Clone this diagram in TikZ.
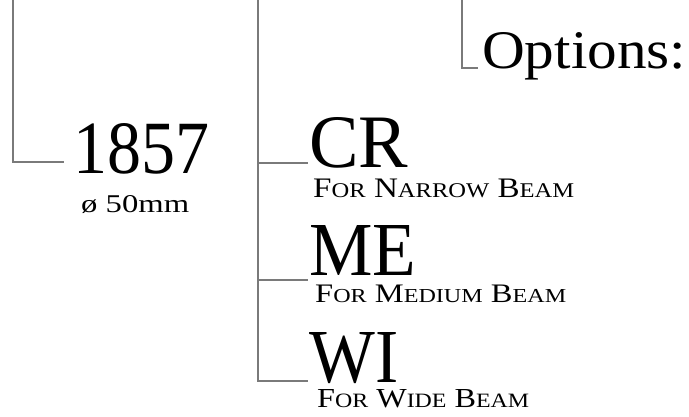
\documentclass[tikz,border=0pt]{standalone}
\usepackage{graphicx}
\usepackage{fontspec}
\setmainfont{Liberation Serif}
\definecolor{linegray}{HTML}{7A7A7A}
\newcommand{\fitbox}[3]{\resizebox{#1pt}{#2pt}{#3}}
\newcommand{\capsmall}[2]{#1{\fontsize{21.5}{21.5}\selectfont #2}}
\begin{document}
\begin{tikzpicture}[x=1pt,y=-1pt,
  tree/.style={draw=linegray,line width=1.8pt},
  txt/.style={inner sep=0pt,anchor=base west,text=black,font=\fontsize{29}{29}\selectfont}]
\useasboundingbox (0,0) rectangle (689,416);
% texts
\node[txt] (num) at (73,173) {\fitbox{136}{50}{1857}};
\node[txt] (dia) at (81,212) {\fitbox{108}{17}{ø 50mm}};
\node[txt] (opt) at (482,68) {\fitbox{204}{36}{Options:}};
\node[txt] (cr) at (309,167) {\fitbox{99}{50}{CR}};
\node[txt] (crn) at (313,197) {\fitbox{261}{18.5}{\capsmall{F}{OR} \capsmall{N}{ARROW} \capsmall{B}{EAM}}};
\node[txt] (me) at (309,275) {\fitbox{107}{50}{ME}};
\node[txt] (men) at (315,302) {\fitbox{251}{17.5}{\capsmall{F}{OR} \capsmall{M}{EDIUM} \capsmall{B}{EAM}}};
\node[txt] (wi) at (309,382) {\fitbox{89}{50}{WI}};
\node[txt] (win) at (317,407) {\fitbox{212}{18}{\capsmall{F}{OR} \capsmall{W}{IDE} \capsmall{B}{EAM}}};
% tree lines
\coordinate (t1) at (13,0);
\coordinate (b1) at (64,162);
\coordinate (t2) at (258,0);
\coordinate (bcr) at (308,163);
\coordinate (bme) at (308,280);
\coordinate (bwi) at (308,381);
\coordinate (t3) at (462,0);
\coordinate (bopt) at (478,68);
\draw[tree] (t1) |- (b1);
\draw[tree] (t2) |- (bwi);
\draw[tree] (t2 |- bcr) -- (bcr);
\draw[tree] (t2 |- bme) -- (bme);
\draw[tree,line width=1.4pt] (t3) |- (bopt);
\end{tikzpicture}
\end{document}
